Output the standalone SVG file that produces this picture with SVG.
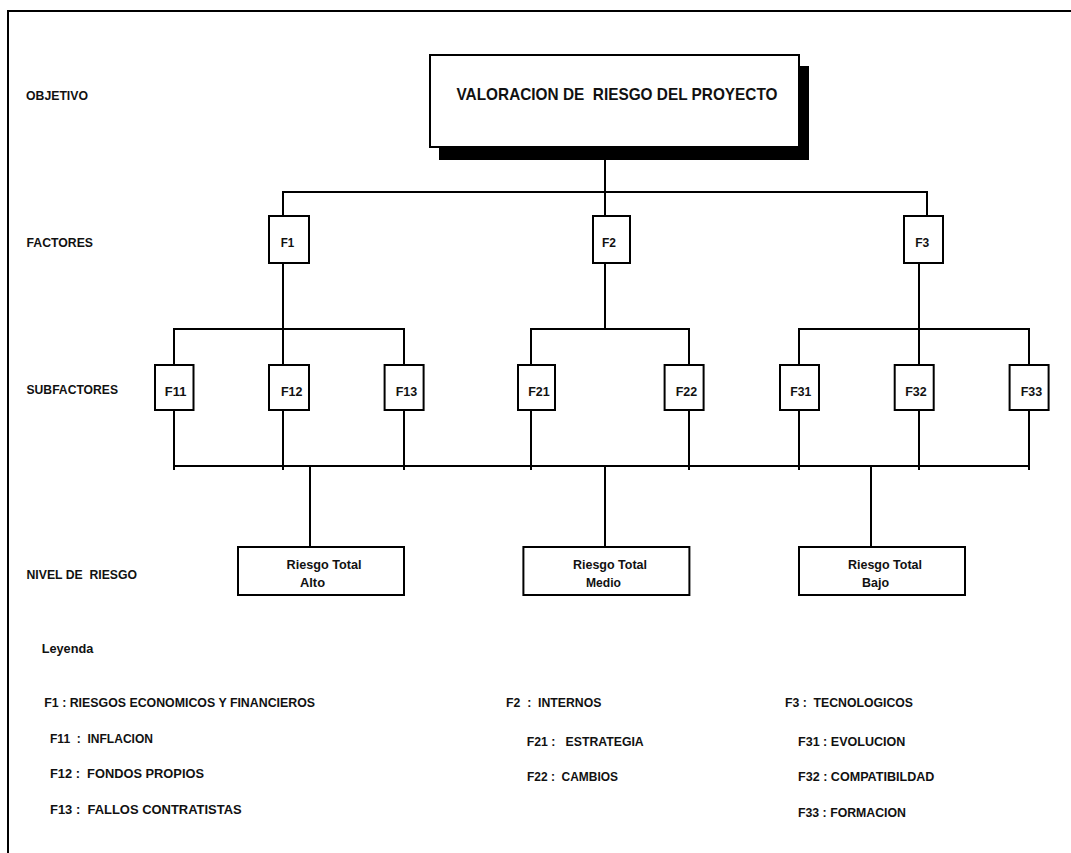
<svg xmlns="http://www.w3.org/2000/svg" width="1071" height="853" viewBox="0 0 1071 853">
<style>
  text { font-family: "Liberation Sans", Arial, sans-serif; font-weight: bold; fill: #111; }
  .lbl { font-size: 13px; }
  .box { fill: #fff; stroke: #000; stroke-width: 2; }
  .ln { stroke: #000; stroke-width: 2; fill: none; }
  .mid { text-anchor: middle; }
</style>
<rect width="1071" height="853" fill="#fff"/>
<g id="frame" class="ln">
  <path d="M8,853 V11 H1071"/>
</g>
<g id="row-labels">
  <text class="lbl" x="26" y="100" textLength="62" lengthAdjust="spacingAndGlyphs">OBJETIVO</text>
  <text class="lbl" x="26.5" y="246.5" textLength="66.5" lengthAdjust="spacingAndGlyphs">FACTORES</text>
  <text class="lbl" x="26.5" y="393.5" textLength="91.5" lengthAdjust="spacingAndGlyphs">SUBFACTORES</text>
  <text class="lbl" x="26.5" y="578.5" textLength="110.5" lengthAdjust="spacingAndGlyphs" xml:space="preserve">NIVEL DE  RIESGO</text>
</g>
<g id="connectors" class="ln">
  <path d="M605,160 V192"/>
  <path d="M283,216 V192 H927 V216"/>
  <path d="M605,192 V216"/>
  <path d="M283,263 V329"/>
  <path d="M605,263 V329"/>
  <path d="M919,263 V329"/>
  <path d="M174,365 V329 H404 V365"/>
  <path d="M283,329 V365"/>
  <path d="M531,365 V329 H689 V365"/>
  <path d="M799,365 V329 H1029 V365"/>
  <path d="M919,329 V365"/>
  <path d="M174,410 V470 M283,410 V470 M404,410 V470 M531,410 V470 M689,410 V470 M799,410 V470 M919,410 V470 M1029,410 V470"/>
  <path d="M174,466 H1029"/>
  <path d="M310,466 V547 M605,466 V547 M871,466 V547"/>
</g>
<g id="objetivo">
  <rect x="439" y="66" width="370" height="94" fill="#000"/>
  <rect class="box" x="430" y="55" width="369" height="92"/>
  <text x="456.5" y="99.5" font-size="17" textLength="321" lengthAdjust="spacingAndGlyphs" xml:space="preserve">VALORACION DE  RIESGO DEL PROYECTO</text>
</g>
<g id="F1"><rect class="box" x="269" y="216" width="40" height="47"/><text class="lbl mid" x="287.5" y="247" textLength="13.5" lengthAdjust="spacingAndGlyphs">F1</text></g>
<g id="F2"><rect class="box" x="593" y="216" width="37" height="47"/><text class="lbl mid" x="609" y="247" textLength="14" lengthAdjust="spacingAndGlyphs">F2</text></g>
<g id="F3"><rect class="box" x="904" y="216" width="39" height="47"/><text class="lbl mid" x="922.3" y="247" textLength="14" lengthAdjust="spacingAndGlyphs">F3</text></g>
<g id="F11"><rect class="box" x="155" y="365" width="38.5" height="45"/><text class="lbl mid" x="175.6" y="395.5" textLength="21.5" lengthAdjust="spacingAndGlyphs">F11</text></g>
<g id="F12"><rect class="box" x="269" y="365" width="40" height="45"/><text class="lbl mid" x="291.7" y="395.5" textLength="21.5" lengthAdjust="spacingAndGlyphs">F12</text></g>
<g id="F13"><rect class="box" x="384.6" y="365" width="39" height="45"/><text class="lbl mid" x="406.5" y="395.5" textLength="21.5" lengthAdjust="spacingAndGlyphs">F13</text></g>
<g id="F21"><rect class="box" x="518" y="365" width="37" height="45"/><text class="lbl mid" x="539" y="395.5" textLength="21.5" lengthAdjust="spacingAndGlyphs">F21</text></g>
<g id="F22"><rect class="box" x="664.6" y="365" width="39" height="45"/><text class="lbl mid" x="686.5" y="395.5" textLength="21.5" lengthAdjust="spacingAndGlyphs">F22</text></g>
<g id="F31"><rect class="box" x="780" y="365" width="39" height="45"/><text class="lbl mid" x="800.7" y="395.5" textLength="21" lengthAdjust="spacingAndGlyphs">F31</text></g>
<g id="F32"><rect class="box" x="894.7" y="365" width="39" height="45"/><text class="lbl mid" x="916" y="395.5" textLength="21.5" lengthAdjust="spacingAndGlyphs">F32</text></g>
<g id="F33"><rect class="box" x="1009.6" y="365" width="39" height="45"/><text class="lbl mid" x="1031.5" y="395.5" textLength="21.5" lengthAdjust="spacingAndGlyphs">F33</text></g>
<g id="riesgo-alto">
  <rect class="box" x="238" y="547" width="166" height="48"/>
  <text class="lbl mid" x="324" y="568.5" textLength="75" lengthAdjust="spacingAndGlyphs">Riesgo Total</text>
  <text class="lbl mid" x="312.5" y="586.5" textLength="25" lengthAdjust="spacingAndGlyphs">Alto</text>
</g>
<g id="riesgo-medio">
  <rect class="box" x="523.4" y="547" width="166" height="48"/>
  <text class="lbl mid" x="610" y="568.5" textLength="74" lengthAdjust="spacingAndGlyphs">Riesgo Total</text>
  <text class="lbl mid" x="603.5" y="586.5" textLength="35" lengthAdjust="spacingAndGlyphs">Medio</text>
</g>
<g id="riesgo-bajo">
  <rect class="box" x="799" y="547" width="166" height="48"/>
  <text class="lbl mid" x="885" y="568.5" textLength="74" lengthAdjust="spacingAndGlyphs">Riesgo Total</text>
  <text class="lbl mid" x="875.5" y="586.5" textLength="27" lengthAdjust="spacingAndGlyphs">Bajo</text>
</g>
<g id="leyenda">
  <text class="lbl" x="41.7" y="652.5" textLength="51.6" lengthAdjust="spacingAndGlyphs">Leyenda</text>
  <text class="lbl" x="44.3" y="706.5" textLength="270.7" lengthAdjust="spacingAndGlyphs">F1 : RIESGOS ECONOMICOS Y FINANCIEROS</text>
  <text class="lbl" x="50" y="743" textLength="103" lengthAdjust="spacingAndGlyphs" xml:space="preserve">F11  :  INFLACION</text>
  <text class="lbl" x="50" y="778" textLength="154" lengthAdjust="spacingAndGlyphs" xml:space="preserve">F12 :  FONDOS PROPIOS</text>
  <text class="lbl" x="50" y="814" textLength="191.7" lengthAdjust="spacingAndGlyphs" xml:space="preserve">F13 :  FALLOS CONTRATISTAS</text>
  <text class="lbl" x="506" y="706.5" textLength="95.4" lengthAdjust="spacingAndGlyphs" xml:space="preserve">F2  :  INTERNOS</text>
  <text class="lbl" x="526.7" y="746" textLength="117" lengthAdjust="spacingAndGlyphs" xml:space="preserve">F21 :   ESTRATEGIA</text>
  <text class="lbl" x="527" y="780.5" textLength="91" lengthAdjust="spacingAndGlyphs" xml:space="preserve">F22 :  CAMBIOS</text>
  <text class="lbl" x="785" y="706.5" textLength="128" lengthAdjust="spacingAndGlyphs" xml:space="preserve">F3 :  TECNOLOGICOS</text>
  <text class="lbl" x="798" y="745.5" textLength="107.4" lengthAdjust="spacingAndGlyphs">F31 : EVOLUCION</text>
  <text class="lbl" x="798" y="780.5" textLength="136.4" lengthAdjust="spacingAndGlyphs">F32 : COMPATIBILDAD</text>
  <text class="lbl" x="798" y="817" textLength="108" lengthAdjust="spacingAndGlyphs">F33 : FORMACION</text>
</g>
</svg>
